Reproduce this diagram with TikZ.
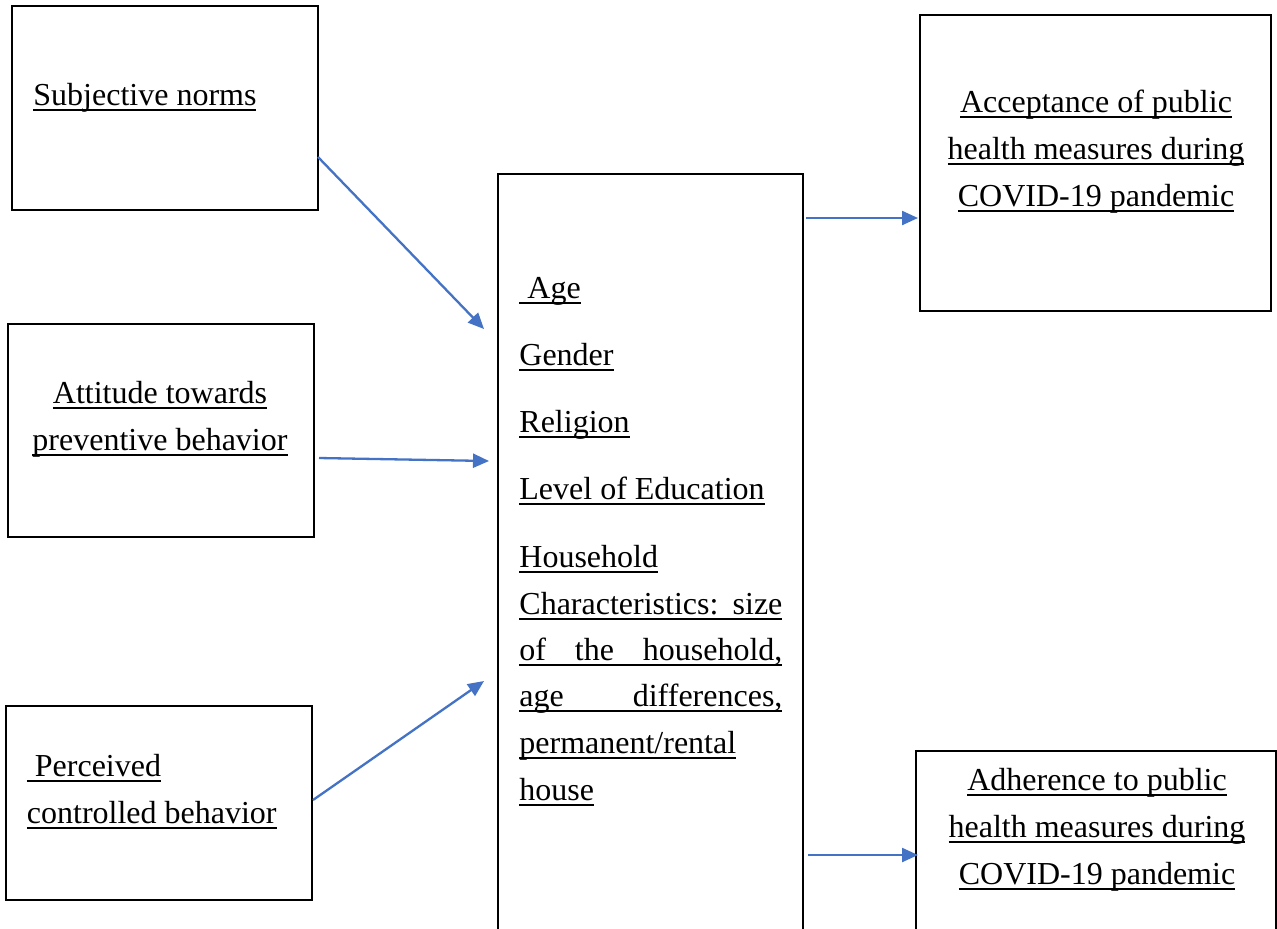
\documentclass[tikz,border=0pt]{standalone}
\usepackage{fontspec}
\setmainfont{Liberation Serif}
\usetikzlibrary{arrows.meta}
\definecolor{arrowblue}{HTML}{4472C4}
\newcommand\myul[1]{\setbox0\hbox{#1}\rlap{\rule[-2.6pt]{\wd0}{0.9pt}}\box0}
\newcommand\jline[1]{\myul{\makebox[131.5pt][s]{#1}}}
\begin{document}
\begin{tikzpicture}[x=0.5pt,y=-0.5pt,
  box/.style={draw=black,line width=1.2pt,inner sep=0pt,fill=none},
  txt/.style={inner sep=0pt,font=\fontsize{16pt}{23.3pt}\selectfont},
  conn/.style={draw=arrowblue,line width=1.15pt,-{Triangle[length=8pt,width=7pt]}}]
\clip (0,0) rectangle (1277,928);
\fill[white] (0,0) rectangle (1277,928);
% boxes
\node[box,minimum width=153pt,minimum height=102pt] (sn) at (165,108) {};
\node[box,minimum width=153pt,minimum height=106.5pt] (att) at (161,430.5) {};
\node[box,minimum width=153pt,minimum height=97pt] (pc) at (159,803) {};
\node[box,minimum width=152.5pt,minimum height=393pt] (mid) at (650.5,567) {};
\node[box,minimum width=175.5pt,minimum height=148pt] (acc) at (1095.5,163) {};
\node[box,minimum width=180pt,minimum height=104.5pt] (adh) at (1096,855.5) {};
% texts
\node[txt,anchor=base west] (t1) at (33,105.5) {\myul{Subjective norms}};
\node[txt,anchor=base] (t2a) at (160,403.5) {\myul{Attitude towards}};
\node[txt,anchor=base] (t2b) at (160,450.5) {\myul{preventive behavior}};
\node[txt,anchor=base west] (t3a) at (26.5,776.5) {\myul{\ Perceived}};
\node[txt,anchor=base west] (t3b) at (26.5,823.5) {\myul{controlled behavior}};
\node[txt,anchor=base west] (m1) at (519,298.5) {\myul{\ Age}};
\node[txt,anchor=base west] (m2) at (519,365.5) {\myul{Gender}};
\node[txt,anchor=base west] (m3) at (519,432.5) {\myul{Religion}};
\node[txt,anchor=base west] (m4) at (519,499.5) {\myul{Level of Education}};
\node[txt,anchor=base west] (m5) at (519,567.5) {\myul{Household}};
\node[txt,anchor=base west] (m6) at (519,614.5) {\jline{Characteristics: size}};
\node[txt,anchor=base west] (m7) at (519,660.5) {\jline{of the household,}};
\node[txt,anchor=base west] (m8) at (519,706.5) {\jline{age differences,}};
\node[txt,anchor=base west] (m9) at (519,753.5) {\myul{permanent/rental}};
\node[txt,anchor=base west] (m10) at (519,800.5) {\myul{house}};
\node[txt,anchor=base] (a1) at (1096,112.5) {\myul{Acceptance of public}};
\node[txt,anchor=base] (a2) at (1096,159.5) {\myul{health measures during}};
\node[txt,anchor=base] (a3) at (1096,206.5) {\myul{COVID-19 pandemic}};
\node[txt,anchor=base] (d1) at (1097,790.5) {\myul{Adherence to public}};
\node[txt,anchor=base] (d2) at (1097,837.5) {\myul{health measures during}};
\node[txt,anchor=base] (d3) at (1097,884.5) {\myul{COVID-19 pandemic}};
% connector end points
\coordinate (s1) at (318,157);
\coordinate (e1) at (484,329);
\coordinate (s2) at (319,458);
\coordinate (e2) at (489,461);
\coordinate (s3) at (313,800);
\coordinate (e3) at (484,681);
\coordinate (s4) at (806,218);
\coordinate (e4) at (918,218);
\coordinate (s5) at (808,855);
\coordinate (e5) at (918,855);
\draw[conn] (s1) -- (e1);
\draw[conn] (s2) -- (e2);
\draw[conn] (s3) -- (e3);
\draw[conn] (s4) -- (e4);
\draw[conn] (s5) -- (e5);
\end{tikzpicture}
\end{document}
